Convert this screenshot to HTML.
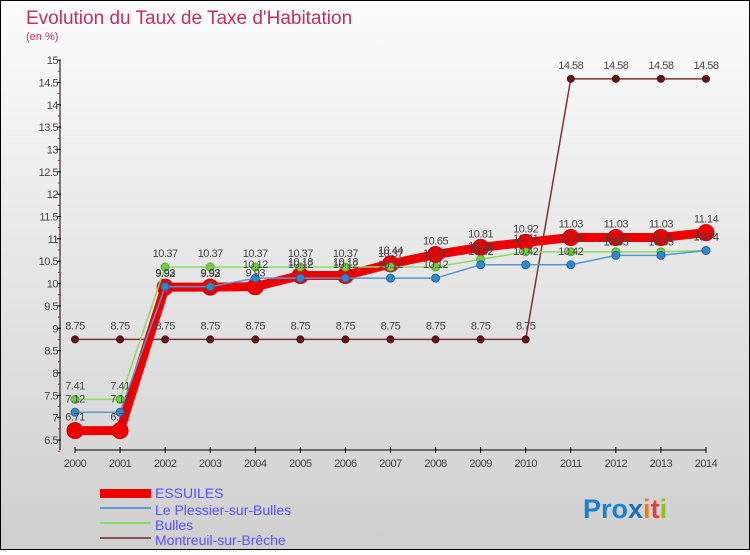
<!DOCTYPE html>
<html><head><meta charset="utf-8"><style>
html,body{margin:0;padding:0}
body{width:750px;height:550px;overflow:hidden;font-family:"Liberation Sans",sans-serif}
svg text{font-family:"Liberation Sans",sans-serif}
</style></head><body>
<svg id="chart" width="750" height="550" xmlns="http://www.w3.org/2000/svg">
<defs><linearGradient id="bg" x1="0" y1="0" x2="0" y2="1"><stop offset="0" stop-color="#fcfcfc"/><stop offset="1" stop-color="#cfcfcf"/></linearGradient></defs>
<rect x="0.5" y="0.5" width="749" height="549" fill="url(#bg)" stroke="#000" stroke-width="1"/>
<text x="26" y="24" font-size="19" fill="#c0305f">Evolution du Taux de Taxe d'Habitation</text>
<text x="26" y="40" font-size="11" fill="#c0305f">(en %)</text>
<g id="axes"></g>
<g id="series"></g>
<g id="labels"></g>
<g>
<rect x="100" y="489" width="51" height="9" fill="#e00"/>
<text x="155" y="498" font-size="14" fill="#5555ee">ESSUILES</text>
<rect x="100" y="507" width="51" height="2" fill="#6699cc"/>
<text x="155" y="515" font-size="14" fill="#5555ee">Le Plessier-sur-Bulles</text>
<rect x="100" y="522" width="51" height="2" fill="#88dd66"/>
<text x="155" y="530" font-size="14" fill="#5555ee">Bulles</text>
<rect x="100" y="537" width="51" height="2" fill="#885555"/>
<text x="155" y="545" font-size="14" fill="#5555ee">Montreuil-sur-Brêche</text>
</g>
<text x="583" y="518" font-size="27" font-weight="bold"><tspan fill="#1a7fd0">Pro</tspan><tspan fill="#1a6fc0">x</tspan><tspan fill="#f07a10">i</tspan><tspan fill="#e04040">t</tspan><tspan fill="#90c020">i</tspan></text>
</svg>
<script>
const years=[2000,2001,2002,2003,2004,2005,2006,2007,2008,2009,2010,2011,2012,2013,2014];
const essuiles=[6.71,6.71,9.92,9.92,9.93,10.18,10.18,10.44,10.65,10.81,10.92,11.03,11.03,11.03,11.14];
const plessier=[7.12,7.12,9.93,9.93,10.12,10.12,10.12,10.12,10.12,10.42,10.42,10.42,10.63,10.63,10.74];
const bulles=[7.41,7.41,10.37,10.37,10.37,10.37,10.37,10.37,10.37,10.54,10.71,10.71,10.71,10.71,10.74];
const montreuil=[8.75,8.75,8.75,8.75,8.75,8.75,8.75,8.75,8.75,8.75,8.75,14.58,14.58,14.58,14.58];
const yTicks=[6.5,7,7.5,8,8.5,9,9.5,10,10.5,11,11.5,12,12.5,13,13.5,14,14.5,15];
const NS="http://www.w3.org/2000/svg";
function X(i){return 75+i*(706-75)/(years.length-1);}
function Y(v){return 440-(v-6.5)*44.7;}
function mk(tag,attrs,parent){const e=document.createElementNS(NS,tag);for(const k in attrs)e.setAttribute(k,attrs[k]);parent.appendChild(e);return e;}
const axes=document.getElementById('axes'),ser=document.getElementById('series'),lab=document.getElementById('labels');
let ax=mk('line',{x1:60,y1:Y(15),x2:60,y2:450,stroke:'#000','stroke-width':1},axes);


let xa=mk('line',{x1:75,y1:450,x2:706,y2:450,stroke:'#000','stroke-width':1},axes);


yTicks.forEach(v=>{
 const t=mk('line',{x1:57,y1:Y(v),x2:61,y2:Y(v),stroke:'#000'},axes);
 
 
 const m=mk('line',{x1:58,y1:Y(v)+11.2,x2:60,y2:Y(v)+11.2,stroke:'#e00'},axes);
 
 
 const l=mk('text',{x:58,y:Y(v)+4,'font-size':11,fill:'#444','text-anchor':'end','letter-spacing':'-0.5'},axes);
 l.textContent=String(v);
 
 
});
years.forEach((yr,i)=>{
 const t=mk('line',{x1:X(i),y1:447,x2:X(i),y2:453,stroke:'#000'},axes);
 
 
 const l=mk('text',{x:X(i),y:467,'font-size':11,fill:'#444','text-anchor':'middle','letter-spacing':'-0.5'},axes);
 l.textContent=String(yr);
 
 
});
function series(vals,name,color,width,r,dotFill,dotStroke){
 const g=mk('g',{},ser);
 
 
 const p=mk('polyline',{points:vals.map((v,i)=>X(i)+','+Y(v)).join(' '),fill:'none',stroke:color,'stroke-width':width},g);
 
 
 vals.forEach((v,i)=>{
  const c=mk('circle',{cx:X(i),cy:Y(v),r:r,fill:dotFill,stroke:dotStroke,'stroke-width':1},g);
  
  
  const l=mk('text',{x:X(i),y:Y(v)-10,'font-size':11,fill:'#444','text-anchor':'middle','letter-spacing':'-0.5'},lab);
  l.textContent=String(v);
  
  
 });
}
series(montreuil,'montreuil','#7a3535',1.5,3.5,'#6a1515','#501010');
series(essuiles,'essuiles','#ee0000',9,8,'#ee0000','#cc0000');
series(bulles,'bulles','#88dd66',1.5,4,'#77cc44','#55aa33');
series(plessier,'plessier','#5599cc',1.5,4,'#3388cc','#2266aa');
</script>
</body></html>
